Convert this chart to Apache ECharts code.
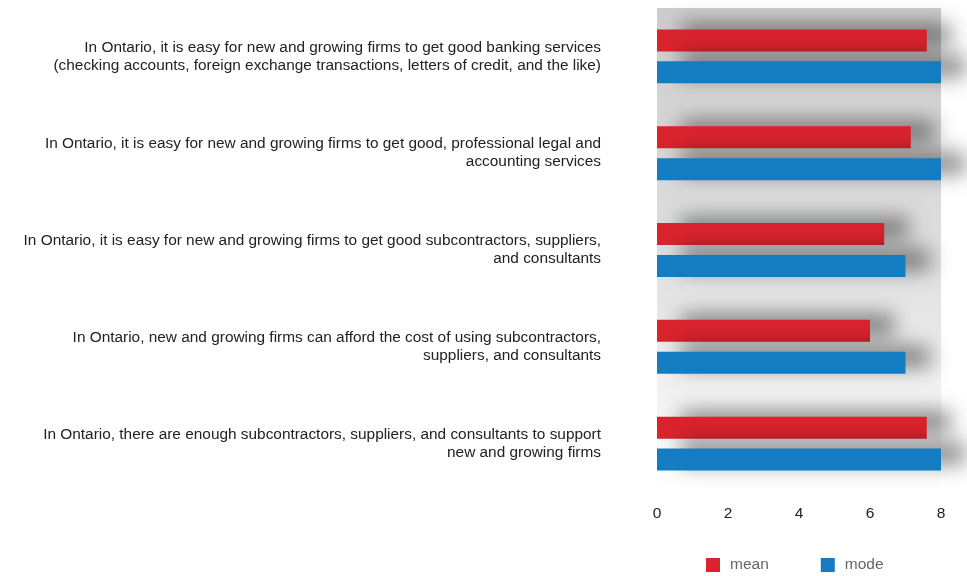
<!DOCTYPE html>
<html>
<head>
<meta charset="utf-8">
<script src="https://cdn.jsdelivr.net/npm/echarts@6/dist/echarts.min.js"></script>
<style>
  html, body { margin: 0; padding: 0; background: #fff; }
  #chart { width: 967px; height: 576px; }
</style>
</head>
<body>
<div id="chart"></div>
<script>
// statements, top to bottom as shown
var statements = [
  'In Ontario, it is easy for new and growing firms to get good banking services\n(checking accounts, foreign exchange transactions, letters of credit, and the like)',
  'In Ontario, it is easy for new and growing firms to get good, professional legal and\naccounting services',
  'In Ontario, it is easy for new and growing firms to get good subcontractors, suppliers,\nand consultants',
  'In Ontario, new and growing firms can afford the cost of using subcontractors,\nsuppliers, and consultants',
  'In Ontario, there are enough subcontractors, suppliers, and consultants to support\nnew and growing firms'
];
var meanValues = [7.6, 7.15, 6.4, 6.0, 7.6];
var modeValues = [8, 8, 7, 7, 8];
var xTicks = [0, 2, 4, 6, 8];

var chart = echarts.init(document.getElementById('chart'));

var font = '"Liberation Sans", Arial, sans-serif';

var barShadow = {
  shadowColor: 'rgba(0,0,0,0.45)',
  shadowBlur: 20,
  shadowOffsetX: 24,
  shadowOffsetY: -6
};

var option = {
  animation: false,
  textStyle: { fontFamily: font },
  grid: {
    left: 657,
    right: 26,
    top: 8,
    bottom: 84,
    show: true,
    borderWidth: 0,
    backgroundColor: {
      type: 'linear', x: 0, y: 0, x2: 0, y2: 1,
      colorStops: [
        { offset: 0, color: '#cdcdcd' },
        { offset: 0.5, color: '#dedede' },
        { offset: 1, color: '#ffffff' }
      ]
    }
  },
  legend: {
    bottom: -2,
    left: 701,
    itemWidth: 14,
    itemHeight: 14,
    itemGap: 52,
    icon: 'rect',
    textStyle: { color: '#666', fontSize: 15.5, fontFamily: font, padding: [0, 0, 0, 5] },
    data: ['mean', 'mode']
  },
  xAxis: {
    type: 'value',
    min: xTicks[0],
    max: xTicks[xTicks.length - 1],
    interval: 2,
    axisLine: { show: false },
    axisTick: { show: false },
    splitLine: { show: false },
    axisLabel: { color: '#222', fontSize: 15.5, fontFamily: font, margin: 14 }
  },
  yAxis: {
    type: 'category',
    inverse: true,
    data: statements,
    axisLine: { show: false },
    axisTick: { show: false },
    axisLabel: { color: '#222', fontSize: 15.4, fontFamily: font, lineHeight: 18, margin: 56, align: 'right' }
  },
  series: [
    {
      name: 'mean',
      type: 'bar',
      data: meanValues,
      barWidth: 22,
      barGap: '45%',
      itemStyle: Object.assign({ color: '#d9232d' }, barShadow)
    },
    {
      name: 'mode',
      type: 'bar',
      data: modeValues,
      barWidth: 22,
      itemStyle: Object.assign({ color: '#147cc1' }, barShadow)
    }
  ]
};

chart.setOption(option);
</script>
</body>
</html>
